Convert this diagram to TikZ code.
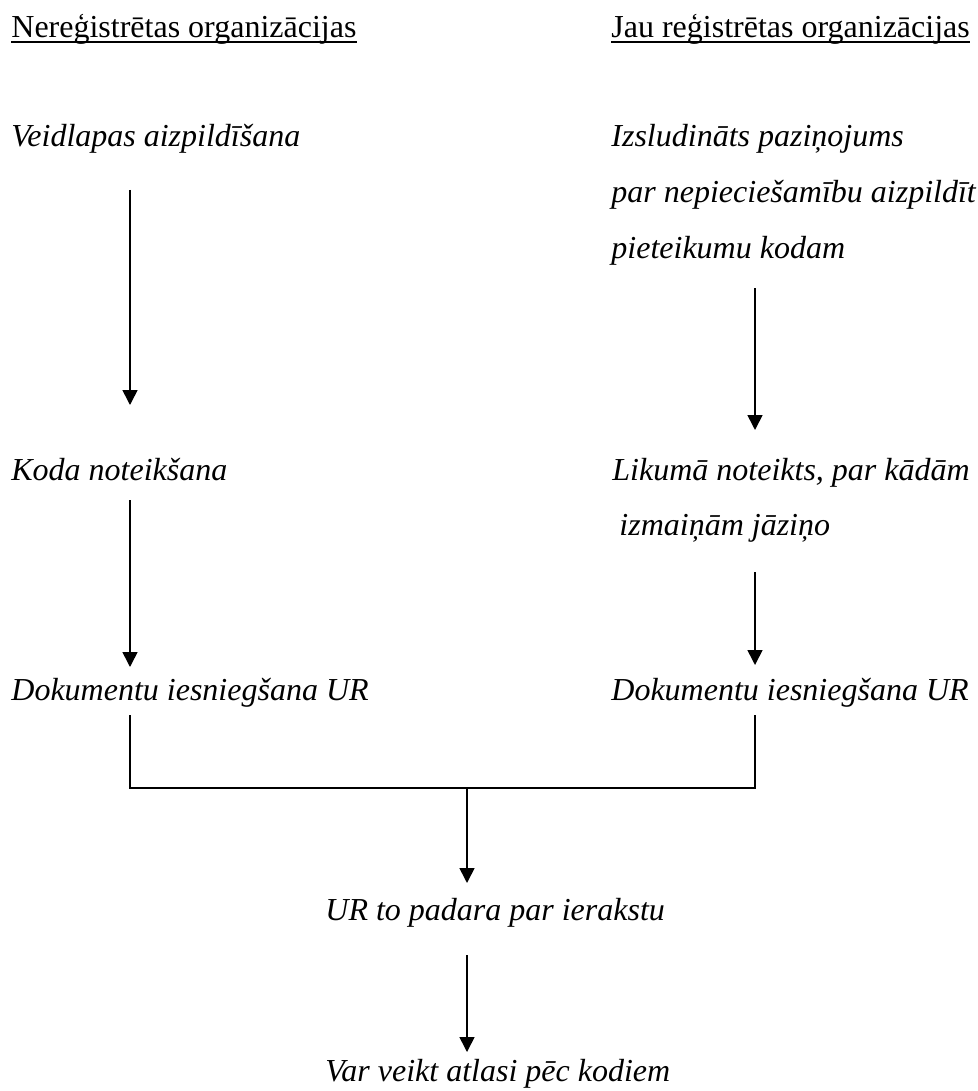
\documentclass[tikz,border=0pt]{standalone}
\usepackage{fontspec}
\setmainfont{Liberation Serif}
\usetikzlibrary{arrows.meta}

\begin{document}
\begin{tikzpicture}[x=0.5pt,y=-0.5pt,
  head/.style={anchor=base west,inner sep=0pt,font=\fontsize{16}{19}\selectfont},
  txt/.style={anchor=base west,inner sep=0pt,font=\fontsize{16}{19}\selectfont\itshape},
  link/.style={line width=0.8pt},
  flow/.style={link,-{Triangle[length=7.5pt,width=7.5pt]}}]
\useasboundingbox (0,0) rectangle (978,1091);
\coordinate (lx) at (130,0);
\coordinate (rx) at (755,0);
\coordinate (join) at (467,788);
%% headings
\node[head] (hl) at (11,38) {Nereģistrētas organizācijas};
\node[head] (hr) at (611,38) {Jau reģistrētas organizācijas};
\draw[link] ([yshift=-2pt]hl.base west) -- ([yshift=-2pt]hl.base east);
\draw[link] ([yshift=-2pt]hr.base west) -- ([yshift=-2pt]hr.base east);
%% left column
\node[txt] (veid) at (11,147) {Veidlapas aizpildīšana};
\node[txt] (koda) at (11,480) {Koda noteikšana};
\node[txt] (dokl) at (11,700) {Dokumentu iesniegšana UR};
%% right column
\node[txt] (izs) at (611,147) {Izsludināts paziņojums};
\node[txt] (par) at (611,203) {par nepieciešamību aizpildīt};
\node[txt] (piet) at (611,258) {pieteikumu kodam};
\node[txt] (lik) at (612,480) {Likumā noteikts, par kādām};
\node[txt] (izm) at (619,535) {izmaiņām jāziņo};
\node[txt] (dokr) at (611,700) {Dokumentu iesniegšana UR};
%% common part
\node[txt] (ur) at (325,920) {UR to padara par ierakstu};
\node[txt] (var) at (325,1081) {Var veikt atlasi pēc kodiem};
%% arrows
\draw[flow,shorten <=21.5pt,shorten >=37.5pt] (veid.base -| lx) -- (koda.base -| lx);
\draw[flow,shorten <=10pt,shorten >=16.5pt] (koda.base -| lx) -- (dokl.base -| lx);
\draw[flow,shorten <=15pt,shorten >=25pt] (piet.base -| rx) -- (lik.base -| rx);
\draw[flow,shorten <=18.5pt,shorten >=17.5pt] (izm.base -| rx) -- (dokr.base -| rx);
\draw[link,shorten <=7.5pt,shorten >=7.5pt] (dokl.base -| lx) -- (join -| lx) -- (join -| rx) -- (dokr.base -| rx);
\draw[flow,shorten >=18.5pt] (join) -- (ur.base -| join);
\draw[flow,shorten <=17.5pt,shorten >=14.5pt] (ur.base -| join) -- (var.base -| join);
\end{tikzpicture}
\end{document}
